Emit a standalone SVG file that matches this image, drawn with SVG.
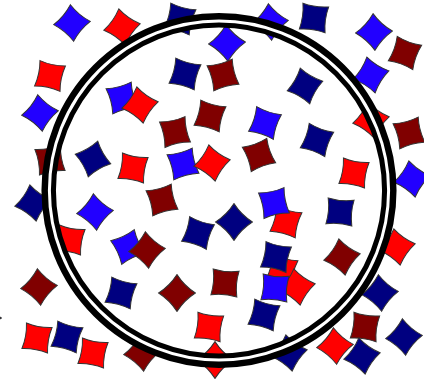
<svg xmlns="http://www.w3.org/2000/svg" xmlns:xlink="http://www.w3.org/1999/xlink" width="424" height="380" viewBox="0 0 424 380">
<style>
.R{fill:#ff0000}.DR{fill:#800000}.B{fill:#2200ff}.DB{fill:#000080}
use{stroke:#333;stroke-width:1}
</style>
<defs>
<path id="sq" d="M-13,-13 Q0,-10.2 13,-13 Q10.2,0 13,13 Q0,10.2 -13,13 Q-10.2,0 -13,-13 Z"/>
</defs>
<rect width="424" height="380" fill="#fff"/>
<g id="squares">
<use href="#sq" class="DB" transform="translate(-17,318) rotate(45)"/>
<use href="#sq" class="B" transform="translate(72,23) rotate(40)"/>
<use href="#sq" class="R" transform="translate(122,27) rotate(35)"/>
<use href="#sq" class="DB" transform="translate(180,19) rotate(15)"/>
<use href="#sq" class="B" transform="translate(227,43) rotate(42)"/>
<use href="#sq" class="B" transform="translate(270,22) rotate(40)"/>
<use href="#sq" class="DB" transform="translate(314,18) rotate(8)"/>
<use href="#sq" class="B" transform="translate(374,32) rotate(42)"/>
<use href="#sq" class="DR" transform="translate(405,53) rotate(20)"/>
<use href="#sq" class="B" transform="translate(371,75) rotate(32)"/>
<use href="#sq" class="DR" transform="translate(223,75) rotate(-15)"/>
<use href="#sq" class="DB" transform="translate(185,74) rotate(15)"/>
<use href="#sq" class="DB" transform="translate(305,86) rotate(30)"/>
<use href="#sq" class="R" transform="translate(50,76) rotate(12)"/>
<use href="#sq" class="B" transform="translate(40,113) rotate(38)"/>
<use href="#sq" class="B" transform="translate(122,98) rotate(-15)"/>
<use href="#sq" class="R" transform="translate(140,105) rotate(35)"/>
<use href="#sq" class="DR" transform="translate(175,132) rotate(-12)"/>
<use href="#sq" class="DR" transform="translate(210,116) rotate(15)"/>
<use href="#sq" class="B" transform="translate(265,123) rotate(18)"/>
<use href="#sq" class="R" transform="translate(371,120) rotate(35)"/>
<use href="#sq" class="DR" transform="translate(409,133) rotate(-15)"/>
<use href="#sq" class="DB" transform="translate(317,140) rotate(20)"/>
<use href="#sq" class="DR" transform="translate(259,155) rotate(-20)"/>
<use href="#sq" class="R" transform="translate(354,173) rotate(10)"/>
<use href="#sq" class="B" transform="translate(412,179) rotate(35)"/>
<use href="#sq" class="DR" transform="translate(50,160) rotate(-10)"/>
<use href="#sq" class="DB" transform="translate(93,159) rotate(-30)"/>
<use href="#sq" class="R" transform="translate(133,168) rotate(10)"/>
<use href="#sq" class="B" transform="translate(183,164) rotate(-15)"/>
<use href="#sq" class="R" transform="translate(212,163) rotate(35)"/>
<use href="#sq" class="DR" transform="translate(162,200) rotate(-15)"/>
<use href="#sq" class="B" transform="translate(95,212) rotate(40)"/>
<use href="#sq" class="DB" transform="translate(33,203) rotate(35)"/>
<use href="#sq" class="R" transform="translate(70,240) rotate(10)"/>
<use href="#sq" class="B" transform="translate(128,247) rotate(-25)"/>
<use href="#sq" class="DR" transform="translate(147,250) rotate(40)"/>
<use href="#sq" class="DB" transform="translate(198,233) rotate(18)"/>
<use href="#sq" class="DB" transform="translate(234,222) rotate(45)"/>
<use href="#sq" class="R" transform="translate(286,222) rotate(15)"/>
<use href="#sq" class="B" transform="translate(274,203) rotate(-12)"/>
<use href="#sq" class="DB" transform="translate(340,212) rotate(5)"/>
<use href="#sq" class="DR" transform="translate(342,257) rotate(35)"/>
<use href="#sq" class="R" transform="translate(397,247) rotate(35)"/>
<use href="#sq" class="R" transform="translate(282,270) rotate(15)"/>
<use href="#sq" class="DB" transform="translate(276,257) rotate(12)"/>
<use href="#sq" class="R" transform="translate(297,287) rotate(35)"/>
<use href="#sq" class="B" transform="translate(275,288) rotate(5)"/>
<use href="#sq" class="DR" transform="translate(225,283) rotate(5)"/>
<use href="#sq" class="DB" transform="translate(264,315) rotate(15)"/>
<use href="#sq" class="DB" transform="translate(380,293) rotate(40)"/>
<use href="#sq" class="DR" transform="translate(365,327) rotate(8)"/>
<use href="#sq" class="DB" transform="translate(404,337) rotate(40)"/>
<use href="#sq" class="R" transform="translate(335,346) rotate(40)"/>
<use href="#sq" class="DB" transform="translate(362,356) rotate(35)"/>
<use href="#sq" class="DB" transform="translate(289,353) rotate(35)"/>
<use href="#sq" class="R" transform="translate(215,360) rotate(45)"/>
<use href="#sq" class="R" transform="translate(209,327) rotate(8)"/>
<use href="#sq" class="DR" transform="translate(177,293) rotate(45)"/>
<use href="#sq" class="DB" transform="translate(121,293) rotate(15)"/>
<use href="#sq" class="DR" transform="translate(39,287) rotate(40)"/>
<use href="#sq" class="R" transform="translate(37,338) rotate(10)"/>
<use href="#sq" class="DB" transform="translate(67,337) rotate(15)"/>
<use href="#sq" class="R" transform="translate(93,353) rotate(10)"/>
<use href="#sq" class="DR" transform="translate(142,353) rotate(40)"/>
</g>
<g id="ring">
<circle cx="219" cy="190.5" r="170.3" fill="none" stroke="#000" stroke-width="14.5"/>
<circle cx="219" cy="190.5" r="169.6" fill="none" stroke="#fff" stroke-width="3"/>
</g>
</svg>
